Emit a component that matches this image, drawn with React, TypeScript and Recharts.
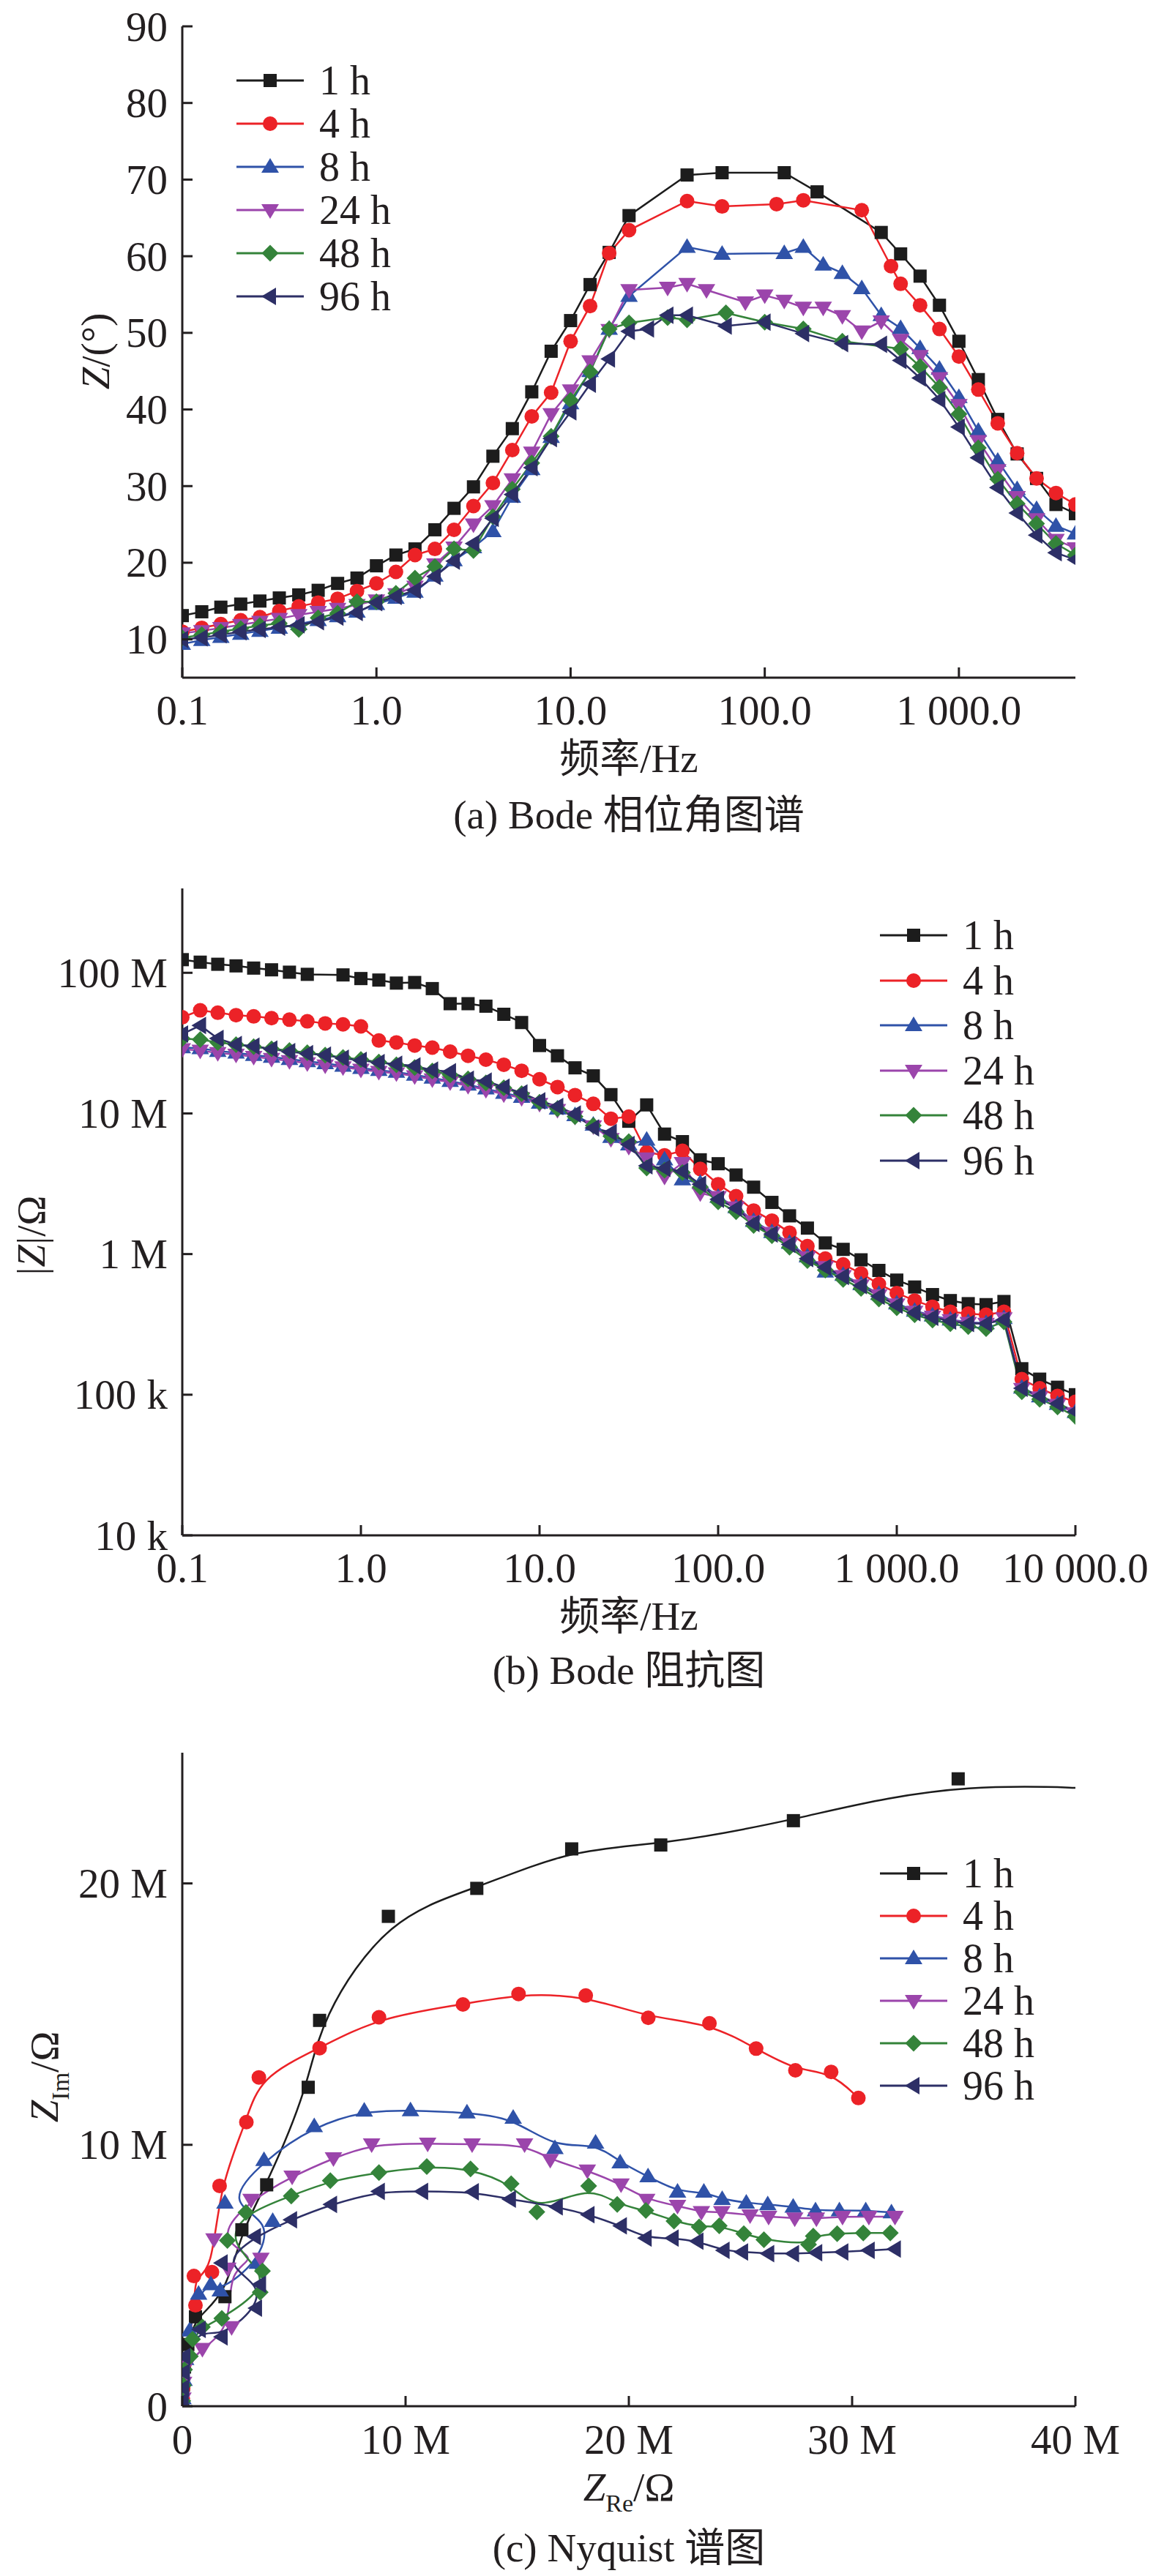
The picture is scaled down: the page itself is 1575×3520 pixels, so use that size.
import React from 'react';
import { LineChart, Line, XAxis, YAxis } from 'recharts';

const FONT = '"Liberation Serif", "Times New Roman", "Noto Sans CJK SC", serif';
const INK = '#231f20';

const seriesNames = ['1 h', '4 h', '8 h', '24 h', '48 h', '96 h'];
const seriesColors = ['#1c1c1c', '#ec2227', '#2f52a8', '#9b45ab', '#34833a', '#2d2f66'];
const seriesShapes = ['square', 'circle', 'triUp', 'triDown', 'diamond', 'triLeft'];

// ---------- (a) Bode phase: [frequency Hz, phase deg] ----------
const phase1h = [[0.1,13.1],[0.126,13.6],[0.158,14.2],[0.2,14.6],[0.251,15.0],[0.316,15.4],[0.398,15.8],[0.501,16.4],[0.631,17.3],[0.794,18.0],[1,19.6],[1.26,21.0],[1.58,21.8],[2,24.3],[2.51,27.1],[3.16,29.9],[3.98,33.9],[5.01,37.5],[6.31,42.3],[7.94,47.6],[10,51.6],[12.6,56.3],[15.8,60.5],[20,65.3],[39.8,70.6],[60.3,70.9],[126,70.9],[186,68.4],[398,63.1],[501,60.3],[631,57.4],[794,53.6],[1000,48.9],[1259,43.9],[1585,38.7],[1995,34.2],[2512,31.0],[3162,27.6],[3981,26.4]];
const phase4h = [[0.1,11.0],[0.126,11.5],[0.158,12.0],[0.2,12.5],[0.251,12.9],[0.316,13.7],[0.398,14.3],[0.501,14.8],[0.631,15.3],[0.794,16.3],[1,17.3],[1.26,18.8],[1.58,21.0],[2,21.8],[2.51,24.3],[3.16,27.4],[3.98,30.4],[5.01,34.7],[6.31,39.1],[7.94,42.2],[10,48.9],[12.6,53.5],[15.8,60.4],[20,63.4],[39.8,67.2],[60.3,66.5],[115,66.8],[158,67.3],[316,66.0],[447,58.7],[501,56.4],[631,53.6],[794,50.5],[1000,46.9],[1259,42.6],[1585,38.2],[1995,34.3],[2512,31.0],[3162,29.1],[3981,27.6]];
const phase8h = [[0.1,9.4],[0.126,9.9],[0.158,10.3],[0.2,10.7],[0.251,11.1],[0.316,11.5],[0.398,12.0],[0.501,12.5],[0.631,13.0],[0.794,13.6],[1,14.6],[1.26,15.4],[1.58,16.2],[2,18.3],[2.51,20.3],[3.16,22.0],[3.98,24.1],[5.01,28.6],[6.31,32.2],[7.94,36.4],[10,40.8],[12.6,45.0],[15.8,50.5],[20,54.8],[39.8,61.2],[60.3,60.3],[126,60.4],[158,61.2],[200,58.9],[251,57.8],[316,55.8],[398,52.3],[501,50.6],[631,48.0],[794,45.3],[1000,41.6],[1259,37.2],[1585,33.3],[1995,29.6],[2512,27.0],[3162,24.8],[3981,23.8]];
const phase24h = [[0.1,10.8],[0.126,11.1],[0.158,11.5],[0.2,11.9],[0.251,12.3],[0.316,12.7],[0.398,13.2],[0.501,13.6],[0.631,14.0],[0.794,14.5],[1,15.1],[1.26,15.9],[1.58,16.9],[2,19.8],[2.51,22.0],[3.16,25.0],[3.98,27.4],[5.01,30.9],[6.31,34.4],[7.94,39.4],[10,42.5],[12.6,46.3],[15.8,50.4],[20,55.6],[31.6,55.9],[39.8,56.4],[50.1,55.6],[79.4,54.0],[100,54.9],[126,54.2],[158,53.3],[200,53.3],[251,52.2],[316,50.2],[398,51.5],[501,49.1],[631,47.0],[794,44.1],[1000,40.6],[1259,35.9],[1585,32.1],[1995,28.6],[2512,25.7],[3162,23.0],[3981,21.9]];
const phase48h = [[0.1,10.2],[0.126,10.6],[0.158,11.0],[0.2,11.4],[0.251,11.8],[0.316,12.1],[0.398,11.3],[0.501,12.8],[0.631,13.4],[0.794,14.9],[1,14.9],[1.26,16.0],[1.58,18.0],[2,19.5],[2.51,21.8],[3.16,21.6],[3.98,26.0],[5.01,29.6],[6.31,33.0],[7.94,36.5],[10,41.2],[12.6,44.9],[15.8,50.5],[20,51.3],[31.6,52.0],[39.8,51.7],[63.1,52.6],[100,51.4],[158,50.5],[251,48.9],[501,47.9],[631,45.6],[794,42.9],[1000,39.4],[1259,35.0],[1585,30.9],[1995,27.7],[2512,25.1],[3162,22.5],[3981,21.0]];
const phase96h = [[0.1,10.0],[0.126,10.2],[0.158,10.6],[0.2,11.0],[0.251,11.3],[0.316,11.6],[0.398,11.9],[0.501,12.3],[0.631,12.9],[0.794,13.5],[1,14.8],[1.26,15.6],[1.58,16.4],[2,18.2],[2.51,20.2],[3.16,22.5],[3.98,25.8],[5.01,28.9],[6.31,32.4],[7.94,36.2],[10,39.7],[12.6,43.3],[15.8,46.6],[20,50.2],[25.1,50.5],[31.6,52.3],[39.8,52.3],[63.1,50.9],[100,51.4],[158,49.9],[251,48.6],[398,48.5],[501,46.4],[631,44.1],[794,41.3],[1000,37.7],[1259,33.7],[1585,29.8],[1995,26.5],[2512,23.6],[3162,21.3],[3981,20.4]];
const phaseSeries = [phase1h, phase4h, phase8h, phase24h, phase48h, phase96h];

const phaseXTicks = [0.1, 1, 10, 100, 1000];
const phaseXLabels = ['0.1', '1.0', '10.0', '100.0', '1 000.0'];
const phaseYTicks = [10, 20, 30, 40, 50, 60, 70, 80, 90];
const phaseYLabels = ['10', '20', '30', '40', '50', '60', '70', '80', '90'];

// ---------- (b) Bode impedance ----------
const freqB = [0.1,0.126,0.158,0.2,0.251,0.316,0.398,0.501,0.631,0.794,1,1.26,1.58,2,2.51,3.16,3.98,5.01,6.31,7.94,10,12.6,15.8,20,25.1,31.6,39.8,50.1,63.1,79.4,100,126,158,200,251,316,398,501,631,794,1000,1259,1585,1995,2512,3162,3981,5012,6310,7943,10000];
const imp1h = [1.24e8,1.19e8,1.15e8,1.12e8,1.08e8,1.05e8,1.01e8,9.75e7,null,9.66e7,9.1e7,8.88e7,8.45e7,8.53e7,7.72e7,6.03e7,6.03e7,5.79e7,5.07e7,4.43e7,3.04e7,2.57e7,2.11e7,1.85e7,1.36e7,8.8e6,1.15e7,7.13e6,6.3e6,4.68e6,4.39e6,3.65e6,2.99e6,2.33e6,1.87e6,1.53e6,1.2e6,1.08e6,9.1e5,7.65e5,6.53e5,5.83e5,5.15e5,4.67e5,4.44e5,4.37e5,4.6e5,1.53e5,1.29e5,1.13e5,1.0e5];
const imp4h = [4.83e7,5.41e7,5.2e7,5.0e7,4.9e7,4.76e7,4.64e7,4.52e7,4.37e7,4.3e7,4.16e7,3.3e7,3.2e7,3.04e7,2.94e7,2.75e7,2.57e7,2.41e7,2.22e7,2.01e7,1.75e7,1.54e7,1.35e7,1.17e7,9.17e6,9.5e6,5.3e6,5.04e6,5.42e6,4.03e6,3.14e6,2.58e6,2.04e6,1.73e6,1.42e6,1.14e6,9.3e5,8.45e5,7.28e5,6.12e5,5.28e5,4.67e5,4.22e5,3.89e5,3.77e5,3.7e5,3.89e5,1.29e5,1.11e5,9.8e4,8.9e4];
const imp8h = [2.95e7,2.9e7,2.78e7,2.7e7,2.6e7,2.52e7,2.43e7,2.35e7,2.27e7,2.18e7,2.1e7,2.03e7,1.97e7,1.88e7,1.79e7,1.7e7,1.6e7,1.5e7,1.4e7,1.31e7,1.19e7,1.08e7,9.7e6,8.3e6,6.8e6,6.0e6,6.5e6,4.7e6,3.39e6,3.2e6,2.55e6,2.15e6,1.72e6,1.43e6,1.2e6,9.6e5,7.5e5,7.1e5,6.1e5,5.2e5,4.45e5,3.95e5,3.65e5,3.42e5,3.28e5,3.22e5,3.5e5,1.12e5,9.7e4,8.6e4,7.5e4];
const imp24h = [2.87e7,2.8e7,2.69e7,2.62e7,2.53e7,2.45e7,2.36e7,2.28e7,2.2e7,2.13e7,2.05e7,1.98e7,1.93e7,1.84e7,1.75e7,1.67e7,1.57e7,1.47e7,1.37e7,1.29e7,1.17e7,1.06e7,9.5e6,8.1e6,6.6e6,5.8e6,4.8e6,3.56e6,4.45e6,2.71e6,2.55e6,2.15e6,1.7e6,1.42e6,1.18e6,9.5e5,8.1e5,7.0e5,6.0e5,5.1e5,4.4e5,3.9e5,3.6e5,3.4e5,3.25e5,3.2e5,3.5e5,1.1e5,9.6e4,8.5e4,7.4e4];
const imp48h = [3.4e7,3.35e7,3.2e7,3.08e7,2.98e7,2.88e7,2.8e7,2.7e7,2.6e7,2.5e7,2.42e7,2.32e7,2.22e7,2.12e7,2.0e7,1.88e7,1.76e7,1.65e7,1.52e7,1.38e7,1.2e7,1.08e7,9.5e6,8.2e6,6.9e6,6.3e6,4.1e6,3.95e6,3.8e6,3.0e6,2.35e6,2.0e6,1.6e6,1.35e6,1.12e6,9.0e5,7.7e5,6.6e5,5.7e5,4.8e5,4.15e5,3.7e5,3.4e5,3.2e5,3.05e5,2.95e5,3.3e5,1.05e5,9.3e4,8.2e4,7.0e4];
const imp96h = [3.67e7,4.22e7,3.41e7,3.09e7,3.01e7,2.87e7,2.75e7,2.66e7,2.6e7,2.47e7,2.38e7,2.3e7,2.24e7,2.18e7,2.03e7,1.98e7,1.75e7,1.7e7,1.54e7,1.4e7,1.23e7,1.12e7,9.9e6,7.9e6,7.33e6,6.0e6,4.24e6,4.07e6,3.87e6,3.14e6,2.45e6,2.12e6,1.65e6,1.39e6,1.17e6,9.3e5,8.04e5,6.93e5,5.97e5,5.02e5,4.33e5,3.83e5,3.55e5,3.34e5,3.21e5,3.21e5,3.41e5,1.11e5,9.8e4,8.65e4,7.6e4];
const impSeries = [imp1h, imp4h, imp8h, imp24h, imp48h, imp96h];

const impXTicks = [0.1, 1, 10, 100, 1000, 10000];
const impXLabels = ['0.1', '1.0', '10.0', '100.0', '1 000.0', '10 000.0'];
const impYTicks = [1e4, 1e5, 1e6, 1e7, 1e8];
const impYLabels = ['10 k', '100 k', '1 M', '10 M', '100 M'];

// ---------- (c) Nyquist: [Z_Re MΩ, Z_Im MΩ] ----------
const nyq1h = [[0.02,0.2],[0.05,0.8],[0.1,1.5],[0.25,2.36],[0.59,3.42],[1.91,4.19],[2.67,6.75],[3.78,8.47],[5.64,12.2],[6.15,14.76],[9.23,18.74],[13.19,19.81],[17.44,21.32],[21.43,21.47],[27.37,22.4],[34.75,24.0],[45,23.4]];
const nyq4h = [[0.02,0.3],[0.04,0.7],[0.11,1.65],[0.59,3.86],[0.52,4.98],[1.33,5.13],[1.67,8.43],[2.87,10.87],[3.43,12.58],[6.15,13.7],[8.81,14.88],[12.57,15.37],[15.06,15.77],[18.07,15.71],[20.87,14.86],[23.61,14.65],[25.7,13.68],[27.46,12.85],[29.06,12.79],[30.28,11.79]];
const nyq8h = [[0.03,0.3],[0.08,1.0],[0.15,1.8],[0.32,2.89],[0.73,4.3],[1.28,4.66],[1.7,4.42],[3.36,5.48],[4.05,7.08],[1.91,7.78],[3.66,9.41],[5.91,10.71],[8.15,11.3],[10.22,11.32],[12.75,11.23],[14.82,11.03],[16.69,9.87],[18.51,10.08],[19.61,9.32],[20.86,8.79],[22.18,8.2],[23.36,8.2],[24.18,7.92],[25.26,7.78],[26.22,7.72],[27.36,7.63],[28.36,7.49],[29.43,7.49],[30.61,7.49],[31.76,7.41]];
const nyq24h = [[0.03,0.3],[0.06,0.9],[0.2,1.6],[0.9,2.2],[2.21,3.03],[2.04,5.27],[3.52,5.65],[1.42,6.39],[3.08,7.9],[4.92,8.79],[6.77,9.49],[8.48,10.02],[10.99,10.05],[12.98,10.02],[15.33,10.02],[16.48,9.43],[18.14,9.02],[19.65,8.49],[20.8,7.9],[22.18,7.67],[23.25,7.43],[24.16,7.43],[25.43,7.31],[26.26,7.25],[27.43,7.19],[28.4,7.19],[29.57,7.25],[30.75,7.25],[31.92,7.25]];
const nyq48h = [[0.02,0.2],[0.05,0.8],[0.1,1.4],[0.36,1.91],[0.46,2.56],[0.9,3.03],[1.77,3.36],[3.49,4.36],[3.59,5.17],[2.02,6.34],[2.85,7.41],[4.88,8.04],[6.63,8.63],[8.81,8.94],[10.95,9.17],[12.91,9.08],[14.73,8.51],[15.88,7.43],[18.2,8.43],[19.48,7.72],[20.76,7.49],[22.02,7.08],[23.15,6.86],[24.05,6.9],[25.15,6.6],[26.05,6.37],[28.05,6.19],[28.26,6.51],[29.33,6.6],[30.5,6.63],[31.71,6.63]];
const nyq96h = [[0.02,0.2],[0.05,0.7],[0.08,1.3],[0.1,1.9],[0.79,2.94],[1.77,2.65],[3.31,3.75],[3.49,4.66],[1.77,5.48],[3.26,6.49],[4.88,7.13],[6.67,7.72],[8.81,8.22],[10.75,8.22],[13.02,8.2],[14.68,7.92],[16.78,7.63],[18.2,7.33],[19.65,6.9],[20.76,6.43],[21.97,6.43],[23.08,6.31],[24.25,5.96],[25.08,5.9],[26.25,5.84],[27.36,5.84],[28.4,5.87],[29.57,5.9],[30.75,5.96],[31.92,6.01]];
const nyqSeries = [nyq1h, nyq4h, nyq8h, nyq24h, nyq48h, nyq96h];

const nyqXTicks = [0, 10, 20, 30, 40];
const nyqXLabels = ['0', '10 M', '20 M', '30 M', '40 M'];
const nyqYTicks = [0, 10, 20];
const nyqYLabels = ['0', '10 M', '20 M'];

// ---------- helpers ----------
const pairs = (arr: number[][]) => arr.map(([x, y]) => ({ x, y }));
const withFreq = (vals: (number | null)[]) =>
  freqB.map((x, i) => ({ x, y: vals[i] })).filter((d) => d.y !== null);

const TICK_FS = 57;

function Marker({ shape, cx, cy, color }: any) {
  if (cx == null || cy == null || isNaN(cx) || isNaN(cy)) return <g />;
  switch (shape) {
    case 'square':
      return <rect x={cx - 9} y={cy - 9} width={18} height={18} fill={color} />;
    case 'circle':
      return <circle cx={cx} cy={cy} r={10} fill={color} />;
    case 'triUp':
      return <polygon points={`${cx},${cy - 12} ${cx + 12},${cy + 8} ${cx - 12},${cy + 8}`} fill={color} />;
    case 'triDown':
      return <polygon points={`${cx},${cy + 12} ${cx + 12},${cy - 8} ${cx - 12},${cy - 8}`} fill={color} />;
    case 'diamond':
      return <polygon points={`${cx},${cy - 11.5} ${cx + 11.5},${cy} ${cx},${cy + 11.5} ${cx - 11.5},${cy}`} fill={color} />;
    default:
      return <polygon points={`${cx - 12},${cy} ${cx + 8},${cy - 12} ${cx + 8},${cy + 12}`} fill={color} />;
  }
}

const makeDot = (shape: string, color: string) => (p: any) =>
  <Marker key={`d-${p.index}`} shape={shape} cx={p.cx} cy={p.cy} color={color} />;

const xTick = (ticks: number[], labels: string[], dy: number) => (p: any) => {
  const { x, y, payload } = p;
  const i = ticks.indexOf(payload.value);
  return (
    <g>
      <line x1={x} y1={y} x2={x} y2={y - 14} stroke={INK} strokeWidth={3} />
      <text x={x} y={y + dy} textAnchor="middle" dominantBaseline="central" fontFamily={FONT} fontSize={TICK_FS} fill={INK}>
        {labels[i]}
      </text>
    </g>
  );
};

const yTick = (ticks: number[], labels: string[]) => (p: any) => {
  const { x, y, payload } = p;
  const i = ticks.indexOf(payload.value);
  return (
    <g>
      <line x1={x} y1={y} x2={x + 14} y2={y} stroke={INK} strokeWidth={3} />
      <text x={x - 20} y={y} textAnchor="end" dominantBaseline="central" fontFamily={FONT} fontSize={TICK_FS} fill={INK}>
        {labels[i]}
      </text>
    </g>
  );
};

const axisStyle = { stroke: INK, strokeWidth: 3 };

function Legend({ left, top, gap }: { left: number; top: number; gap: number }) {
  return (
    <>
      {seriesNames.map((name, i) => (
        <div
          key={name}
          style={{ position: 'absolute', left, top: top + i * gap - 30, height: 60, display: 'flex', alignItems: 'center', whiteSpace: 'nowrap' }}
        >
          <svg width={92} height={60} style={{ display: 'block' }}>
            <line x1={0} y1={30} x2={92} y2={30} stroke={seriesColors[i]} strokeWidth={3} />
            <Marker shape={seriesShapes[i]} cx={46} cy={30} color={seriesColors[i]} />
          </svg>
          <span style={{ marginLeft: 21, fontSize: 56, lineHeight: '60px', fontFamily: FONT, color: INK }}>{name}</span>
        </div>
      ))}
    </>
  );
}

function Label({ cx, cy, rotate, size = 55, children }: any) {
  return (
    <div
      style={{
        position: 'absolute', left: cx, top: cy, whiteSpace: 'nowrap', fontFamily: FONT, fontSize: size,
        lineHeight: 1, color: INK,
        transform: `translate(-50%, -50%)${rotate ? ' rotate(-90deg)' : ''}`,
      }}
    >
      {children}
    </div>
  );
}

function frameAxes() {
  return [
    <XAxis key="tx" xAxisId="t" orientation="top" type="number" domain={[0, 1]} tick={false} tickLine={false} axisLine={axisStyle} height={0} />,
    <YAxis key="ry" yAxisId="r" orientation="right" type="number" domain={[0, 1]} tick={false} tickLine={false} axisLine={axisStyle} width={0} />,
  ];
}

export default function App() {
  return (
    <div style={{ position: 'absolute', left: 0, top: 0, width: 1575, height: 3520, background: '#fff', overflow: 'hidden' }}>
      {/* (a) */}
      <div style={{ position: 'absolute', left: 0, top: 0 }}>
        <LineChart width={1575} height={1050} margin={{ top: 36, right: 106, bottom: 0, left: 149 }}>
          <XAxis type="number" dataKey="x" scale="log" domain={[0.1, 3981.07]} ticks={phaseXTicks} interval={0}
            tickSize={0} tickMargin={0} tickLine={false} axisLine={axisStyle} tick={xTick(phaseXTicks, phaseXLabels, 44)} height={124} allowDataOverflow />
          <YAxis type="number" dataKey="y" domain={[5, 90]} ticks={phaseYTicks} interval={0}
            tickSize={0} tickMargin={0} tickLine={false} axisLine={axisStyle} tick={yTick(phaseYTicks, phaseYLabels)} width={100} />
          {frameAxes()}
          {phaseSeries.map((s, i) => (
            <Line key={seriesNames[i]} data={pairs(s)} dataKey="y" type="linear" stroke={seriesColors[i]} strokeWidth={2.5}
              dot={makeDot(seriesShapes[i], seriesColors[i])} activeDot={false} isAnimationActive={false} />
          ))}
        </LineChart>
      </div>

      {/* (b) */}
      <div style={{ position: 'absolute', left: 0, top: 1150 }}>
        <LineChart width={1575} height={1050} margin={{ top: 64, right: 106, bottom: 0, left: 149 }}>
          <XAxis type="number" dataKey="x" scale="log" domain={[0.1, 10000]} ticks={impXTicks} interval={0}
            tickSize={0} tickMargin={0} tickLine={false} axisLine={axisStyle} tick={xTick(impXTicks, impXLabels, 44)} height={102} allowDataOverflow />
          <YAxis type="number" dataKey="y" scale="log" domain={[1e4, 3.98e8]} ticks={impYTicks} interval={0}
            tickSize={0} tickMargin={0} tickLine={false} axisLine={axisStyle} tick={yTick(impYTicks, impYLabels)} width={100} allowDataOverflow />
          {frameAxes()}
          {impSeries.map((s, i) => (
            <Line key={seriesNames[i]} data={withFreq(s)} dataKey="y" type="linear" stroke={seriesColors[i]} strokeWidth={2.5}
              dot={makeDot(seriesShapes[i], seriesColors[i])} activeDot={false} isAnimationActive={false} />
          ))}
        </LineChart>
      </div>

      {/* (c) */}
      <div style={{ position: 'absolute', left: 0, top: 2340 }}>
        <LineChart width={1575} height={1050} margin={{ top: 55, right: 106, bottom: 0, left: 149 }}>
          <XAxis type="number" dataKey="x" domain={[0, 40]} ticks={nyqXTicks} interval={0}
            tickSize={0} tickMargin={0} tickLine={false} axisLine={axisStyle} tick={xTick(nyqXTicks, nyqXLabels, 45)} height={102} allowDataOverflow />
          <YAxis type="number" dataKey="y" domain={[0, 25]} ticks={nyqYTicks} interval={0}
            tickSize={0} tickMargin={0} tickLine={false} axisLine={axisStyle} tick={yTick(nyqYTicks, nyqYLabels)} width={100} allowDataOverflow />
          {frameAxes()}
          {nyqSeries.map((s, i) => (
            <Line key={seriesNames[i]} data={pairs(s)} dataKey="y" type="basis" stroke={seriesColors[i]} strokeWidth={2.5}
              dot={makeDot(seriesShapes[i], seriesColors[i])} activeDot={false} isAnimationActive={false} />
          ))}
        </LineChart>
      </div>

      {/* legends */}
      <Legend left={323} top={110} gap={59} />
      <Legend left={1202} top={1278} gap={61.6} />
      <Legend left={1202} top={2560} gap={58} />

      {/* axis titles and captions */}
      <Label cx={130} cy={480} rotate><i>Z</i>/(°)</Label>
      <Label cx={859} cy={1036}>频率/Hz</Label>
      <Label cx={859} cy={1113}>(a) Bode 相位角图谱</Label>

      <Label cx={42} cy={1688} rotate>|<i>Z</i>|/Ω</Label>
      <Label cx={859} cy={2208}>频率/Hz</Label>
      <Label cx={859} cy={2282}>(b) Bode 阻抗图</Label>

      <Label cx={60} cy={2838} rotate>
        <i>Z</i><span style={{ fontSize: 34, position: 'relative', top: 15 }}>Im</span>/Ω
      </Label>
      <Label cx={859} cy={3398}>
        <i>Z</i><span style={{ fontSize: 34, position: 'relative', top: 15 }}>Re</span>/Ω
      </Label>
      <Label cx={859} cy={3481}>(c) Nyquist 谱图</Label>
    </div>
  );
}
